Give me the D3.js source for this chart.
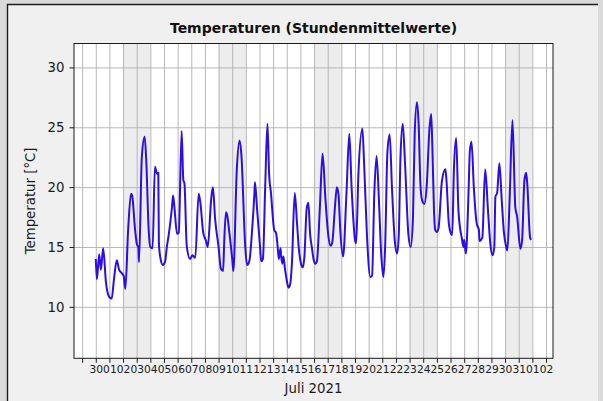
<!DOCTYPE html>
<meta charset="utf-8">
<title>Temperaturen</title>
<style>
body { margin: 0; background: #dadada; }
svg { display: block; font-family: "DejaVu Sans", sans-serif; }
</style>
<svg id="chart"></svg>
<script src="https://cdn.jsdelivr.net/npm/d3@7"></script>
<script>
// hours after 2021-06-30 00:00 (UTC) and hourly mean temperature
var hours = [0, 2, 6, 9, 13, 18, 24, 28, 32, 37, 41, 46, 49, 52, 57, 62, 64, 69, 72, 75,
	76, 81, 86, 89, 93, 96, 100, 104, 108, 110, 111, 114, 118, 122, 125, 128, 134, 136, 138, 143,
	146, 151, 154, 156, 160, 166, 170, 175, 181, 184, 189, 194, 197, 203, 206, 210, 216, 220, 224, 226,
	229, 231, 235, 240, 242, 248, 253, 256, 263, 266, 270, 275, 279, 280, 284, 289, 291, 294, 298, 302,
	305, 308, 314, 317, 320, 322, 325, 326, 328, 330, 333, 336, 339, 342, 345, 350, 354, 357, 361, 364,
	367, 371, 374, 377, 380, 383, 386, 389, 394, 399, 404, 409, 413, 416, 421, 424, 427, 430, 435, 441,
	446, 450, 456, 458, 462, 469, 472, 477, 483, 486, 490, 494, 498, 502, 506, 509, 513, 517, 521, 526,
	530, 533, 536, 540, 544, 550, 554, 558, 561, 565, 568, 571, 574, 578, 582, 587, 590, 592, 595, 597,
	600, 603, 609, 615, 617, 621, 625, 627, 630, 634, 638, 644, 647, 648, 651, 656, 658, 661, 665, 670,
	674, 675, 680, 685, 690, 694, 698, 701, 703, 706, 710, 714, 718, 722, 724, 728, 733, 738, 741, 747,
	750, 754, 757, 759, 764, 766];
var temps = [14.0, 12.3, 14.4, 13.1, 14.9, 12.0, 10.8, 10.7, 12.3, 13.9, 13.1, 12.8, 12.6, 11.5, 16.5, 19.45, 19.3, 16.5, 15.3, 14.9,
	13.75, 22.5, 24.2, 22.0, 16.5, 15.0, 14.9, 21.7, 21.1, 21.2, 15.3, 14.0, 13.5, 13.8, 15.0, 15.9, 18.3, 19.3, 18.5, 16.1,
	16.2, 24.7, 20.6, 20.3, 15.1, 14.0, 14.3, 14.1, 19.45, 18.7, 16.2, 15.5, 15.0, 19.0, 20.0, 17.3, 15.0, 13.2, 13.0, 15.5,
	17.9, 17.7, 16.2, 14.0, 13.0, 21.4, 23.9, 22.8, 15.0, 13.5, 13.8, 16.4, 19.45, 20.4, 18.0, 15.0, 13.8, 14.0, 20.0, 25.3,
	21.0, 19.6, 16.4, 16.2, 15.0, 14.0, 14.9, 14.3, 13.6, 14.2, 13.1, 12.2, 11.6, 11.9, 13.6, 19.5, 17.0, 15.0, 13.6, 13.3,
	14.2, 18.2, 18.7, 16.1, 15.0, 14.0, 13.6, 13.8, 18.1, 22.8, 19.0, 16.0, 15.1, 15.4, 18.5, 20.0, 19.4, 16.5, 14.2, 19.5,
	24.45, 20.0, 15.6, 15.3, 21.1, 24.9, 22.0, 16.0, 12.5, 12.6, 19.5, 22.6, 19.0, 14.5, 12.5, 15.0, 22.9, 24.4, 20.0, 15.5,
	14.45, 16.0, 22.5, 25.3, 22.0, 16.0, 15.0, 17.5, 24.45, 27.1, 25.2, 20.3, 18.9, 18.6, 20.0, 24.9, 26.1, 23.5, 18.0, 16.45,
	16.25, 16.6, 20.55, 21.5, 20.5, 17.0, 16.1, 16.0, 21.5, 24.1, 18.0, 15.7, 15.0, 15.6, 14.45, 20.0, 23.0, 23.8, 20.0, 17.0,
	16.4, 15.5, 15.8, 21.5, 18.0, 15.3, 14.3, 15.0, 19.2, 19.5, 22.0, 19.0, 16.2, 15.0, 14.7, 19.0, 25.6, 18.3, 17.6, 14.85,
	15.6, 20.55, 21.2, 20.3, 15.8, 15.6];

var dayLabels = ["", "30", "01", "02", "03", "04", "05", "06", "07", "08", "09", "10", "11", "12",
	"13", "14", "15", "16", "17", "18", "19", "20", "21", "22", "23", "24", "25", "26", "27", "28",
	"29", "30", "31", "01", "02"];
var yTicks = [10, 15, 20, 25, 30];
var shadeStarts = ["2021-07-02", "2021-07-09", "2021-07-16", "2021-07-23", "2021-07-30"];
var shadeDays = 2;

var W = 603, H = 401;
var margin = {top: 43.5, right: 50, bottom: 42.7, left: 74};
var w = W - margin.left - margin.right;
var h = H - margin.top - margin.bottom;

var start = Date.UTC(2021, 5, 30);
var data = hours.map(function(hr, i) {
	return {t: new Date(start + hr * 3600e3), v: temps[i]};
});

var svg = d3.select("#chart").attr("width", W).attr("height", H);

// figure frame
svg.append("rect").attr("x", 0).attr("y", 0).attr("width", W).attr("height", H).attr("fill", "#dadada");
svg.append("rect").attr("x", 7).attr("y", 4).attr("width", 591).attr("height", H).attr("fill", "#f0f0f0");
svg.append("path").attr("d", "M7.5," + H + "V4.5H598").attr("fill", "none").attr("stroke", "#1e1e1e").attr("stroke-width", 1.4);

var ext = d3.extent(data, function(d) { return d.t; });
var pad = (ext[1] - ext[0]) * 0.05;
var x = d3.scaleUtc()
	.domain([new Date(+ext[0] - pad), new Date(+ext[1] + pad)])
	.range([0, w]);
var y = d3.scaleLinear().domain([5.7, 32]).range([h, 0]);

var g = svg.append("g").attr("transform", "translate(" + margin.left + "," + margin.top + ")");
g.append("rect").attr("width", w).attr("height", h).attr("fill", "#fff");

g.selectAll(".shade")
	.data(shadeStarts)
	.join("rect")
	.attr("class", "shade")
	.attr("x", function(d) { return x(new Date(d)); })
	.attr("y", 0)
	.attr("width", function(d) { return x(d3.utcDay.offset(new Date(d), shadeDays)) - x(new Date(d)); })
	.attr("height", h)
	.attr("fill", "#d3d3d3")
	.attr("fill-opacity", 0.4);

var dayTicks = d3.utcDay.range(new Date(Date.UTC(2021, 5, 29)), new Date(Date.UTC(2021, 7, 3)));

// grid
g.append("g")
	.call(d3.axisBottom(x).tickValues(dayTicks).tickSize(h).tickFormat(""))
	.call(function(s) {
		s.select(".domain").remove();
		s.selectAll("line").attr("stroke", "#b0b0b0").attr("stroke-width", 0.9);
	});
g.append("g")
	.call(d3.axisLeft(y).tickValues(yTicks).tickSize(-w).tickFormat(""))
	.call(function(s) {
		s.select(".domain").remove();
		s.selectAll("line").attr("stroke", "#b0b0b0").attr("stroke-width", 0.9);
	});

var line = d3.line()
	.x(function(d) { return x(d.t); })
	.y(function(d) { return y(d.v); })
	.curve(d3.curveMonotoneX);

g.append("path")
	.datum(data)
	.attr("fill", "none")
	.attr("stroke", "#2a0cec")
	.attr("stroke-width", 2)
	.attr("stroke-linejoin", "round")
	.attr("d", line);

g.append("rect").attr("width", w).attr("height", h)
	.attr("fill", "none").attr("stroke", "#1a1a1a").attr("stroke-width", 1);

// axes
var xAxis = g.append("g")
	.attr("transform", "translate(0," + h + ")")
	.call(d3.axisBottom(x).tickValues(dayTicks).tickSize(4.5).tickPadding(3)
		.tickFormat(function(d, i) { return dayLabels[i]; }));
xAxis.select(".domain").remove();
xAxis.selectAll("line").attr("stroke", "#1a1a1a");
xAxis.selectAll("text").attr("font-size", 10.7).attr("fill", "#1a1a1a").attr("font-family", "DejaVu Sans");

var yAxis = g.append("g")
	.call(d3.axisLeft(y).tickValues(yTicks).tickSize(4.5).tickPadding(5));
yAxis.select(".domain").remove();
yAxis.selectAll("line").attr("stroke", "#1a1a1a");
yAxis.selectAll("text").attr("font-size", 13.3).attr("fill", "#1a1a1a").attr("font-family", "DejaVu Sans");

svg.append("text")
	.attr("x", margin.left + w / 2)
	.attr("y", 33)
	.attr("text-anchor", "middle")
	.attr("font-size", 14)
	.attr("font-weight", "bold")
	.attr("fill", "#111")
	.text("Temperaturen (Stundenmittelwerte)");

svg.append("text")
	.attr("x", margin.left + w / 2)
	.attr("y", 393)
	.attr("text-anchor", "middle")
	.attr("font-size", 13.3)
	.attr("fill", "#1a1a1a")
	.text("Juli 2021");

svg.append("text")
	.attr("transform", "translate(35," + (margin.top + h / 2) + ") rotate(-90)")
	.attr("text-anchor", "middle")
	.attr("font-size", 13.3)
	.attr("fill", "#1a1a1a")
	.text("Temperatur [°C]");
</script>
